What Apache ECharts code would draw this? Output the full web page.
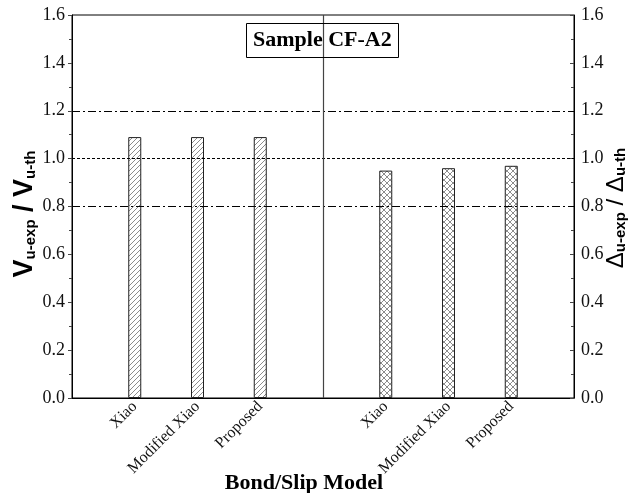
<!DOCTYPE html>
<html>
<head>
<meta charset="utf-8">
<script src="https://cdn.jsdelivr.net/npm/echarts@6/dist/echarts.min.js"></script>
<style>
  html, body { margin: 0; padding: 0; background: #fff; }
  #chart { width: 631px; height: 493px; }
</style>
</head>
<body>
<div id="chart"></div>
<script>
// Bond/slip model comparison for sample CF-A2
const models = ['Xiao', 'Modified Xiao', 'Proposed'];
const forceRatio = [1.09, 1.09, 1.09];   // V u-exp / V u-th
const slipRatio = [0.95, 0.96, 0.97];    // Δ u-exp / Δ u-th
const forceSlots = [1, 2, 3];
const slipSlots = [5, 6, 7];
const dividerSlot = 4;
const dashDotLevels = [0.8, 1.2];
const dottedLevels = [1.0];
const sampleName = 'Sample CF-A2';
const xTitle = 'Bond/Slip Model';

const serif = '"Liberation Serif", "Times New Roman", serif';
const sans = '"Liberation Sans", Arial, sans-serif';

// hatch fills drawn on small tiles
function hatchTile(cross) {
  const s = cross ? 6 : 5;
  const c = document.createElement('canvas');
  c.width = s; c.height = s;
  const g = c.getContext('2d');
  g.fillStyle = '#ffffff';
  g.fillRect(0, 0, s, s);
  g.strokeStyle = '#6e6e6e';
  g.lineWidth = 0.8;
  g.beginPath();
  g.moveTo(-1, s + 1); g.lineTo(s + 1, -1);
  g.moveTo(-1, 1); g.lineTo(1, -1);
  g.moveTo(s - 1, s + 1); g.lineTo(s + 1, s - 1);
  if (cross) {
    g.moveTo(-1, -1); g.lineTo(s + 1, s + 1);
    g.moveTo(s - 1, -1); g.lineTo(s + 1, 1);
    g.moveTo(-1, s - 1); g.lineTo(1, s + 1);
  }
  g.stroke();
  return c;
}

const labelAt = {};
forceSlots.forEach((p, i) => { labelAt[p] = models[i]; });
slipSlots.forEach((p, i) => { labelAt[p] = models[i]; });

const chart = echarts.init(document.getElementById('chart'), null, { renderer: 'canvas' });

const yAxisCommon = {
  type: 'value', min: 0, max: 1.6, interval: 0.2,
  splitLine: { show: false },
  axisLine: { show: true, lineStyle: { color: '#000', width: 1 } },
  minorTick: { show: true, splitNumber: 2, length: 3, lineStyle: { color: '#444' } },
  axisLabel: {
    color: '#111', fontFamily: serif, fontSize: 18, margin: 7,
    formatter: v => v.toFixed(1)
  }
};

chart.setOption({
  animation: false,
  backgroundColor: '#fff',
  grid: {
    left: 72, right: 57, top: 15, bottom: 95,
    containLabel: false, outerBoundsMode: 'none',
    show: true, borderColor: '#000', borderWidth: 1
  },
  title: {
    text: sampleName, left: 246, top: 23,
    borderColor: '#000', borderWidth: 1, padding: [6, 7, 6, 7],
    textStyle: { fontFamily: serif, fontWeight: 'bold', fontSize: 22, color: '#000', lineHeight: 23 }
  },
  xAxis: {
    type: 'value', min: 0, max: 8, interval: 1,
    splitLine: { show: false },
    axisTick: { show: false },
    axisLine: { show: true, lineStyle: { color: '#000' } },
    axisLabel: {
      rotate: 45, margin: 6, color: '#111', fontFamily: serif, fontSize: 16,
      showMinLabel: true, showMaxLabel: true,
      formatter: v => labelAt[v] || ''
    }
  },
  yAxis: [
    Object.assign({}, yAxisCommon, {
      position: 'left',
      axisTick: { show: true, inside: false, length: 4, lineStyle: { color: '#444' } }
    }),
    Object.assign({}, yAxisCommon, {
      position: 'right',
      axisTick: { show: true, inside: true, length: 4, lineStyle: { color: '#444' } },
      minorTick: { show: true, splitNumber: 2, length: 3, lineStyle: { color: '#444' } }
    })
  ],
  graphic: [
    {
      type: 'text', x: 304, y: 483,
      style: {
        text: xTitle, align: 'center', verticalAlign: 'middle',
        fontFamily: serif, fontWeight: 'bold', fontSize: 22, fill: '#000'
      }
    },
    {
      type: 'text', x: 23, y: 214, rotation: Math.PI / 2,
      style: {
        text: '{v|V}{s|u-exp}{v| / V}{s|u-th}',
        align: 'center', verticalAlign: 'middle',
        rich: {
          v: { fontFamily: sans, fontWeight: 'bold', fontSize: 27, fill: '#000', lineHeight: 30, verticalAlign: 'bottom' },
          s: { fontFamily: sans, fontWeight: 'bold', fontSize: 15, fill: '#000', lineHeight: 30, verticalAlign: 'bottom' }
        }
      }
    },
    {
      type: 'text', x: 614, y: 208, rotation: Math.PI / 2,
      style: {
        text: '{v|Δ}{s|u-exp}{v| / Δ}{s|u-th}',
        align: 'center', verticalAlign: 'middle',
        rich: {
          v: { fontFamily: sans, fontWeight: 'normal', fontSize: 24, fill: '#000', lineHeight: 28, verticalAlign: 'bottom' },
          s: { fontFamily: sans, fontWeight: 'bold', fontSize: 15, fill: '#000', lineHeight: 28, verticalAlign: 'bottom' }
        }
      }
    }
  ],
  series: [
    {
      type: 'bar', xAxisIndex: 0, yAxisIndex: 0, barWidth: 13, barGap: '-100%',
      data: forceSlots.map((p, i) => [p, forceRatio[i]]),
      itemStyle: {
        color: { image: hatchTile(false), repeat: 'repeat' },
        borderColor: '#222', borderWidth: 1
      },
      markLine: {
        silent: true, symbol: 'none', label: { show: false },
        data: [
          ...dashDotLevels.map(v => ({ yAxis: v, lineStyle: { color: '#000', width: 1, type: [8, 3, 2, 3] } })),
          ...dottedLevels.map(v => ({ yAxis: v, lineStyle: { color: '#000', width: 1, type: [3, 2] } })),
          { xAxis: dividerSlot, lineStyle: { color: '#444', width: 1.2, type: 'solid' } }
        ]
      }
    },
    {
      type: 'bar', xAxisIndex: 0, yAxisIndex: 1, barWidth: 13, barGap: '-100%',
      data: slipSlots.map((p, i) => [p, slipRatio[i]]),
      itemStyle: {
        color: { image: hatchTile(true), repeat: 'repeat' },
        borderColor: '#222', borderWidth: 1
      }
    }
  ]
});
</script>
</body>
</html>
